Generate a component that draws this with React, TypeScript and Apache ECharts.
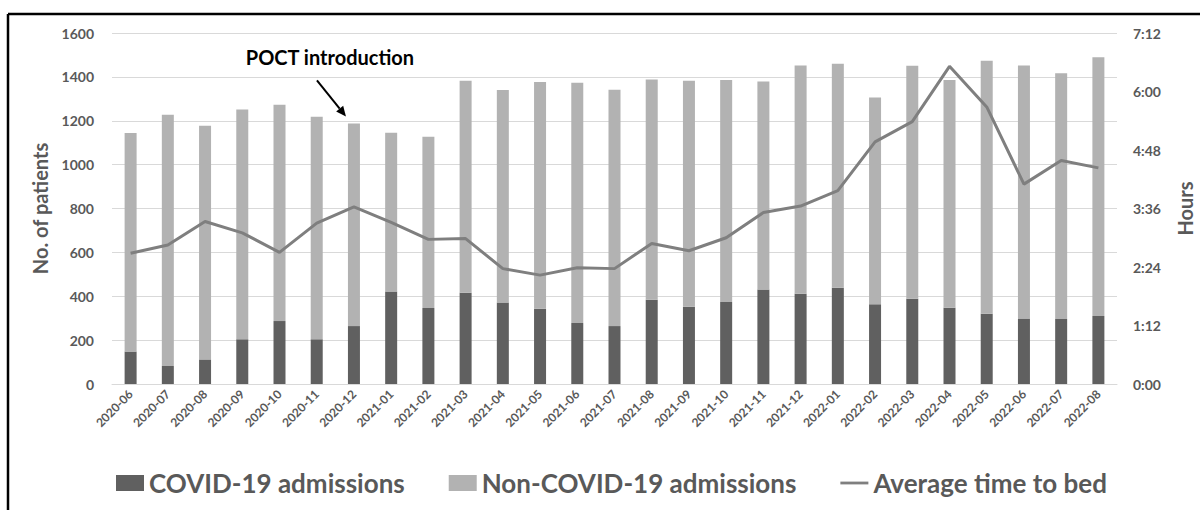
import React, { useEffect, useRef } from "react";
import * as echarts from "echarts";

const categories = [
  "2020-06", "2020-07", "2020-08", "2020-09", "2020-10", "2020-11", "2020-12",
  "2021-01", "2021-02", "2021-03", "2021-04", "2021-05", "2021-06", "2021-07",
  "2021-08", "2021-09", "2021-10", "2021-11", "2021-12", "2022-01", "2022-02",
  "2022-03", "2022-04", "2022-05", "2022-06", "2022-07", "2022-08",
];
const covidAdmissions = [148, 82, 112, 204, 287, 204, 264, 422, 347, 416, 372, 343, 278, 264, 384, 352, 374, 431, 411, 439, 364, 389, 348, 320, 299, 296, 310];
const nonCovidAdmissions = [996, 1145, 1065, 1047, 986, 1014, 924, 723, 780, 966, 968, 1034, 1095, 1077, 1004, 1030, 1012, 948, 1041, 1021, 942, 1062, 1038, 1154, 1153, 1120, 1180];
// average time to bed, in minutes
const timeToBedMinutes = [161, 171, 200, 186, 162, 198, 218, 199, 178, 179, 142, 134, 143, 142, 173, 164, 180, 211, 219, 238, 298, 323, 391, 341, 246, 275, 266];
const annotationIndex = 6;
const annotationText = "POCT introduction";

const FONT = "Lato, 'Open Sans', sans-serif";
const GREY_TEXT = "#595959";

function fmtHM(m: number) {
  const h = Math.floor(m / 60);
  const mm = Math.round(m - h * 60);
  return `${h}:${mm < 10 ? "0" + mm : mm}`;
}

export default function App() {
  const ref = useRef<HTMLDivElement>(null);
  useEffect(() => {
    if (!ref.current) return;
    const chart = echarts.init(ref.current, null, { renderer: "svg" });
    chart.setOption({
      animation: false,
      backgroundColor: "#ffffff",
      textStyle: { fontFamily: FONT },
      grid: {
        left: 112,
        right: 83,
        top: 33,
        bottom: 126,
        containLabel: false,
        outerBoundsMode: "none",
      },
      legend: {
        top: 465,
        left: 111,
        itemGap: 44,
        itemWidth: 28,
        itemHeight: 16,
        textStyle: { fontSize: 26, fontWeight: "bold", color: GREY_TEXT, fontFamily: FONT },
        data: [
          { name: "COVID-19 admissions", icon: "rect" },
          { name: "Non-COVID-19 admissions", icon: "rect" },
          {
            name: "Average time to bed",
            icon: "path://M0,0 L30,0 L30,3 L0,3 Z",
            itemStyle: { color: "#7f7f7f" },
          },
        ],
      },
      xAxis: {
        type: "category",
        data: categories,
        axisLine: { lineStyle: { color: "#d9d9d9", width: 1 } },
        axisTick: { show: false },
        axisLabel: {
          rotate: 45,
          interval: 0,
          fontSize: 12,
          fontWeight: "bold",
          color: GREY_TEXT,
          margin: 8,
        },
      },
      yAxis: [
        {
          type: "value",
          min: 0,
          max: 1600,
          interval: 200,
          name: "No. of patients",
          nameLocation: "middle",
          nameGap: 62,
          nameRotate: 90,
          nameTextStyle: { fontSize: 20, fontWeight: "bold", color: GREY_TEXT },
          axisLine: { show: false },
          axisTick: { show: false },
          splitLine: { lineStyle: { color: "#d9d9d9", width: 1 } },
          axisLabel: {
            fontSize: 14,
            fontWeight: "bold",
            color: GREY_TEXT,
            margin: 18,
            formatter: (v: number) => String(v),
          },
        },
        {
          type: "value",
          min: 0,
          max: 432,
          interval: 72,
          name: "Hours",
          nameLocation: "middle",
          nameGap: 58,
          nameRotate: 90,
          nameTextStyle: { fontSize: 20, fontWeight: "bold", color: GREY_TEXT },
          axisLine: { show: false },
          axisTick: { show: false },
          splitLine: { show: false },
          axisLabel: {
            fontSize: 14,
            fontWeight: "bold",
            color: GREY_TEXT,
            margin: 16,
            formatter: (v: number) => fmtHM(v),
          },
        },
      ],
      series: [
        {
          name: "COVID-19 admissions",
          type: "bar",
          stack: "adm",
          barWidth: 12,
          itemStyle: { color: "#606060" },
          data: covidAdmissions,
        },
        {
          name: "Non-COVID-19 admissions",
          type: "bar",
          stack: "adm",
          barWidth: 12,
          itemStyle: { color: "#b2b2b2" },
          data: nonCovidAdmissions,
        },
        {
          name: "Average time to bed",
          type: "line",
          yAxisIndex: 1,
          symbol: "none",
          lineStyle: { color: "#7f7f7f", width: 3 },
          itemStyle: { color: "#7f7f7f" },
          data: timeToBedMinutes,
        },
      ],
    });

    const total = covidAdmissions[annotationIndex] + nonCovidAdmissions[annotationIndex];
    const p = chart.convertToPixel({ gridIndex: 0 }, [categories[annotationIndex], total]) as number[];
    const px = p[0];
    const py = p[1];
    const tipX = px - 8, tipY = py - 7;
    const startX = px - 37, startY = py - 43;
    const dx = tipX - startX, dy = tipY - startY;
    const len = Math.sqrt(dx * dx + dy * dy);
    const ux = dx / len, uy = dy / len;
    const hl = 10, hw = 4.5;
    const bx = tipX - ux * hl, by = tipY - uy * hl;

    chart.setOption({
      graphic: [
        {
          type: "line",
          shape: { x1: 8, y1: 14, x2: 1200, y2: 14 },
          style: { stroke: "#000", lineWidth: 2.5 },
        },
        {
          type: "line",
          shape: { x1: 8, y1: 14, x2: 8, y2: 510 },
          style: { stroke: "#000", lineWidth: 2.5 },
        },
        {
          type: "text",
          x: px - 24,
          y: py - 66,
          style: {
            text: annotationText,
            fontSize: 20,
            fontWeight: "bold",
            fontFamily: FONT,
            fill: "#000",
            align: "center",
            verticalAlign: "middle",
          },
        },
        {
          type: "line",
          shape: { x1: startX, y1: startY, x2: bx, y2: by },
          style: { stroke: "#000", lineWidth: 2 },
        },
        {
          type: "polygon",
          shape: {
            points: [
              [tipX, tipY],
              [bx - uy * hw, by + ux * hw],
              [bx + uy * hw, by - ux * hw],
            ],
          },
          style: { fill: "#000" },
        },
      ],
    });
    return () => chart.dispose();
  }, []);
  return (
    <div
      ref={ref}
      style={{ position: "fixed", left: 0, top: 0, width: 1200, height: 510 }}
    />
  );
}
